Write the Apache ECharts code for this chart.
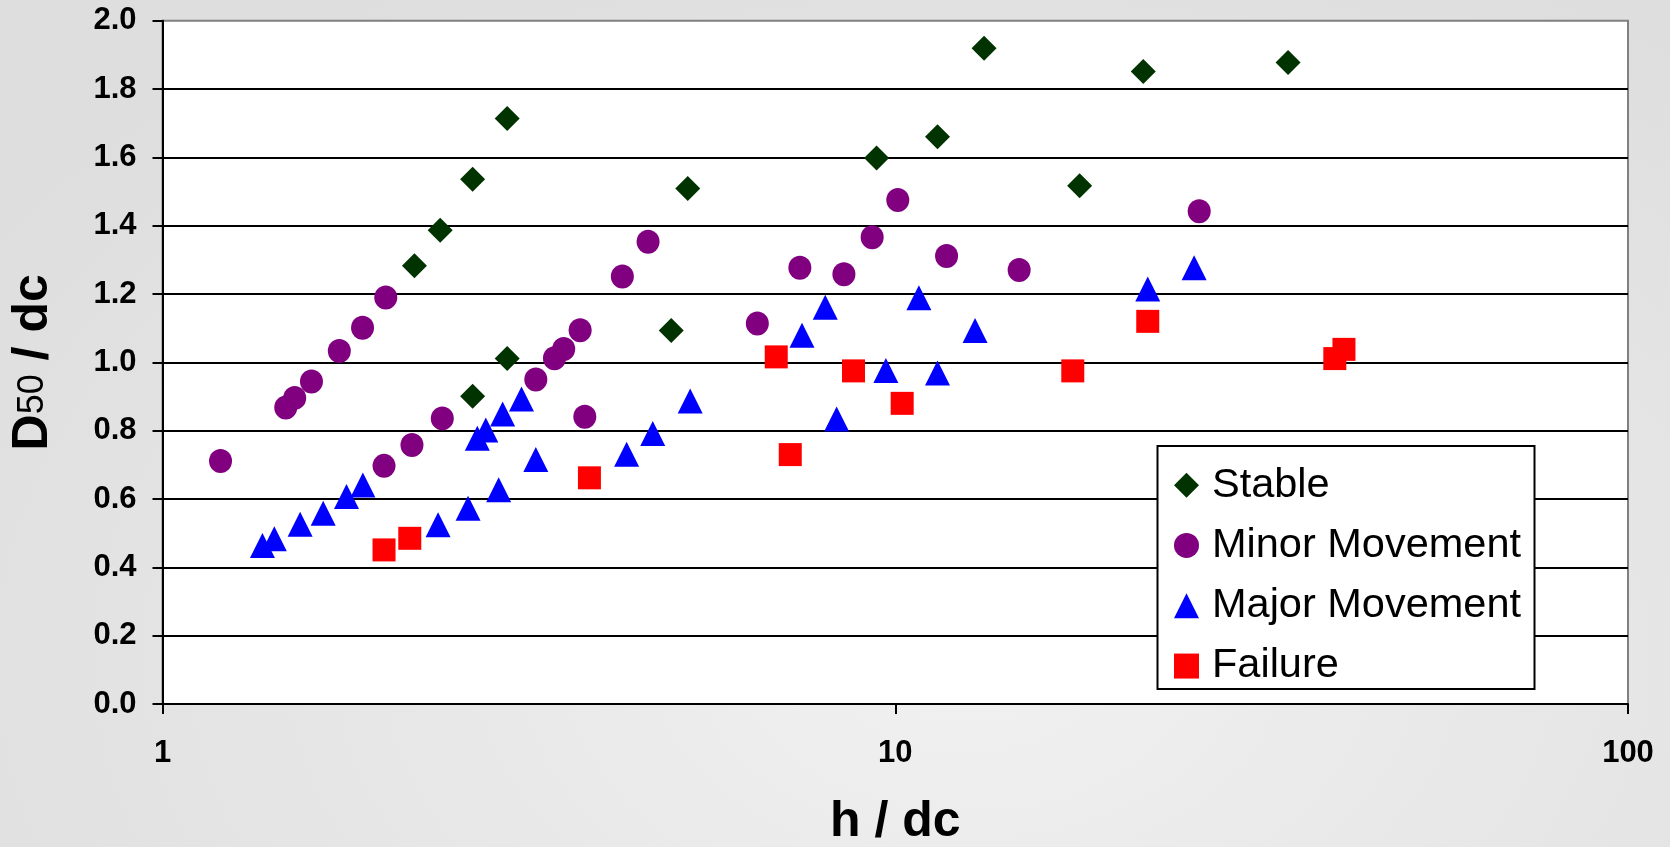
<!DOCTYPE html>
<html>
<head>
<meta charset="utf-8">
<script src="https://cdn.jsdelivr.net/npm/echarts@6/dist/echarts.min.js"></script>
<style>
  html, body { margin: 0; padding: 0; }
  #chart {
    width: 1670px; height: 847px;
    background: radial-gradient(ellipse 70% 90% at 58% 78%, #f1f1f1 0%, #e8e8e8 45%, #dedede 100%);
  }
</style>
</head>
<body>
<div id="chart"></div>
<script>
// Relative depth h/dc (log scale) against relative stone size D50/dc, per damage class
const stableX = [2.207, 2.393, 2.650, 2.954, 2.650, 2.954, 4.947, 5.21, 9.43, 11.42, 13.22, 17.85, 21.8, 34.36];
const stableY = [1.283, 1.387, 1.536, 1.714, 0.901, 1.011, 1.093, 1.509, 1.598, 1.660, 1.919, 1.517, 1.851, 1.878];

const minorX = [1.20, 1.473, 1.515, 1.597, 1.743, 1.875, 2.017, 2.006, 2.190, 2.409, 3.232, 3.427, 3.528,
                3.715, 3.77, 4.242, 4.599, 6.483, 7.41, 8.51, 9.30, 10.08, 11.75, 14.76, 25.99];
const minorY = [0.711, 0.868, 0.896, 0.944, 1.033, 1.101, 1.190, 0.697, 0.758, 0.836, 0.950, 1.012, 1.039,
                1.094, 0.841, 1.251, 1.353, 1.114, 1.277, 1.258, 1.366, 1.475, 1.311, 1.270, 1.442];

const majorX = [1.369, 1.421, 1.541, 1.657, 1.783, 1.877, 2.377, 2.612, 2.876, 3.232, 2.689, 2.762, 2.912,
                3.090, 4.299, 4.667, 5.25, 7.46, 8.025, 8.318, 9.71, 10.77, 11.42, 12.85, 22.11, 25.58];
const majorY = [0.464, 0.484, 0.526, 0.558, 0.607, 0.641, 0.525, 0.573, 0.627, 0.716, 0.778, 0.802, 0.849,
                0.893, 0.731, 0.792, 0.887, 1.079, 1.161, 0.834, 0.976, 1.189, 0.969, 1.093, 1.215, 1.277];

const failureX = [2.006, 2.175, 3.825, 6.88, 7.19, 8.77, 10.22, 17.47, 22.11, 39.8, 40.96];
const failureY = [0.451, 0.485, 0.662, 1.016, 0.730, 0.975, 0.880, 0.975, 1.120, 1.011, 1.038];

const seriesNames = ['Stable', 'Minor Movement', 'Major Movement', 'Failure'];
const yTicks = [0, 0.2, 0.4, 0.6, 0.8, 1.0, 1.2, 1.4, 1.6, 1.8, 2.0];

const pairs = (xs, ys) => xs.map((x, i) => [x, ys[i]]);

const FONT = '"Liberation Sans", Arial, sans-serif';
const chart = echarts.init(document.getElementById('chart'), null, { renderer: 'canvas' });

chart.setOption({
  backgroundColor: 'transparent',
  animation: false,
  textStyle: { fontFamily: FONT, color: '#000' },
  grid: {
    left: 162.5, right: 42, top: 20.7, bottom: 143,
    show: true, backgroundColor: '#ffffff', borderColor: '#808080', borderWidth: 2,
    containLabel: false, outerBoundsMode: 'none'
  },
  xAxis: {
    type: 'log', logBase: 10, min: 1, max: 100,
    name: 'h / dc', nameLocation: 'middle', nameGap: 93,
    nameTextStyle: { fontSize: 50, fontWeight: 'bold', fontFamily: FONT, color: '#000' },
    axisLine: { show: true, onZero: false, lineStyle: { color: '#000', width: 2 } },
    axisTick: { show: true, inside: false, length: 10, lineStyle: { color: '#000', width: 2 } },
    minorTick: { show: false },
    splitLine: { show: false },
    axisLabel: { fontSize: 31, fontWeight: 'bold', fontFamily: FONT, color: '#000', margin: 34,
                 formatter: v => String(Math.round(v)) }
  },
  yAxis: {
    type: 'value', min: 0, max: 2, interval: 0.2,
    name: '{b|D}{s|50}{b| / dc}', nameLocation: 'middle', nameGap: 104,
    nameTextStyle: {
      fontFamily: FONT, color: '#000',
      rich: {
        b: { fontSize: 50, fontWeight: 'bold', fontFamily: FONT, color: '#000' },
        s: { fontSize: 36, fontWeight: 'normal', fontFamily: FONT, color: '#000' }
      }
    },
    axisLine: { show: true, lineStyle: { color: '#000', width: 2 } },
    axisTick: { show: true, inside: false, length: 10, lineStyle: { color: '#000', width: 2 } },
    splitLine: { show: true, showMinLine: false, showMaxLine: false, lineStyle: { color: '#000', width: 2 } },
    axisLabel: { fontSize: 31, fontWeight: 'bold', fontFamily: FONT, color: '#000', margin: 26,
                 formatter: v => { const t = yTicks.find(k => Math.abs(k - v) < 1e-6); return (t !== undefined ? t : v).toFixed(1); } }
  },
  legend: {
    orient: 'vertical', left: 1174, top: 462, z: 10,
    padding: 0, itemGap: 14, itemWidth: 25, itemHeight: 25,
    textStyle: { fontSize: 41.5, fontFamily: FONT, color: '#000', lineHeight: 46.3, padding: [0, 0, 0, 8] },
    data: [
      { name: seriesNames[0], icon: 'diamond' },
      { name: seriesNames[1], icon: 'circle' },
      { name: seriesNames[2], icon: 'triangle' },
      { name: seriesNames[3], icon: 'rect' }
    ]
  },
  graphic: [{
    type: 'rect', z: 9,
    shape: { x: 1157.5, y: 446, width: 377, height: 243 },
    style: { fill: '#ffffff', stroke: '#000000', lineWidth: 2 }
  }],
  series: [
    { name: seriesNames[0], type: 'scatter', symbol: 'diamond', symbolSize: 25,
      itemStyle: { color: '#003300', opacity: 1 }, data: pairs(stableX, stableY) },
    { name: seriesNames[1], type: 'scatter', symbol: 'circle', symbolSize: [23, 24],
      itemStyle: { color: '#800080', opacity: 1 }, data: pairs(minorX, minorY) },
    { name: seriesNames[2], type: 'scatter', symbol: 'triangle', symbolSize: 25,
      itemStyle: { color: '#0000ff', opacity: 1 }, data: pairs(majorX, majorY) },
    { name: seriesNames[3], type: 'scatter', symbol: 'rect', symbolSize: 23,
      itemStyle: { color: '#ff0000', opacity: 1 }, data: pairs(failureX, failureY) }
  ]
});
</script>
</body>
</html>
